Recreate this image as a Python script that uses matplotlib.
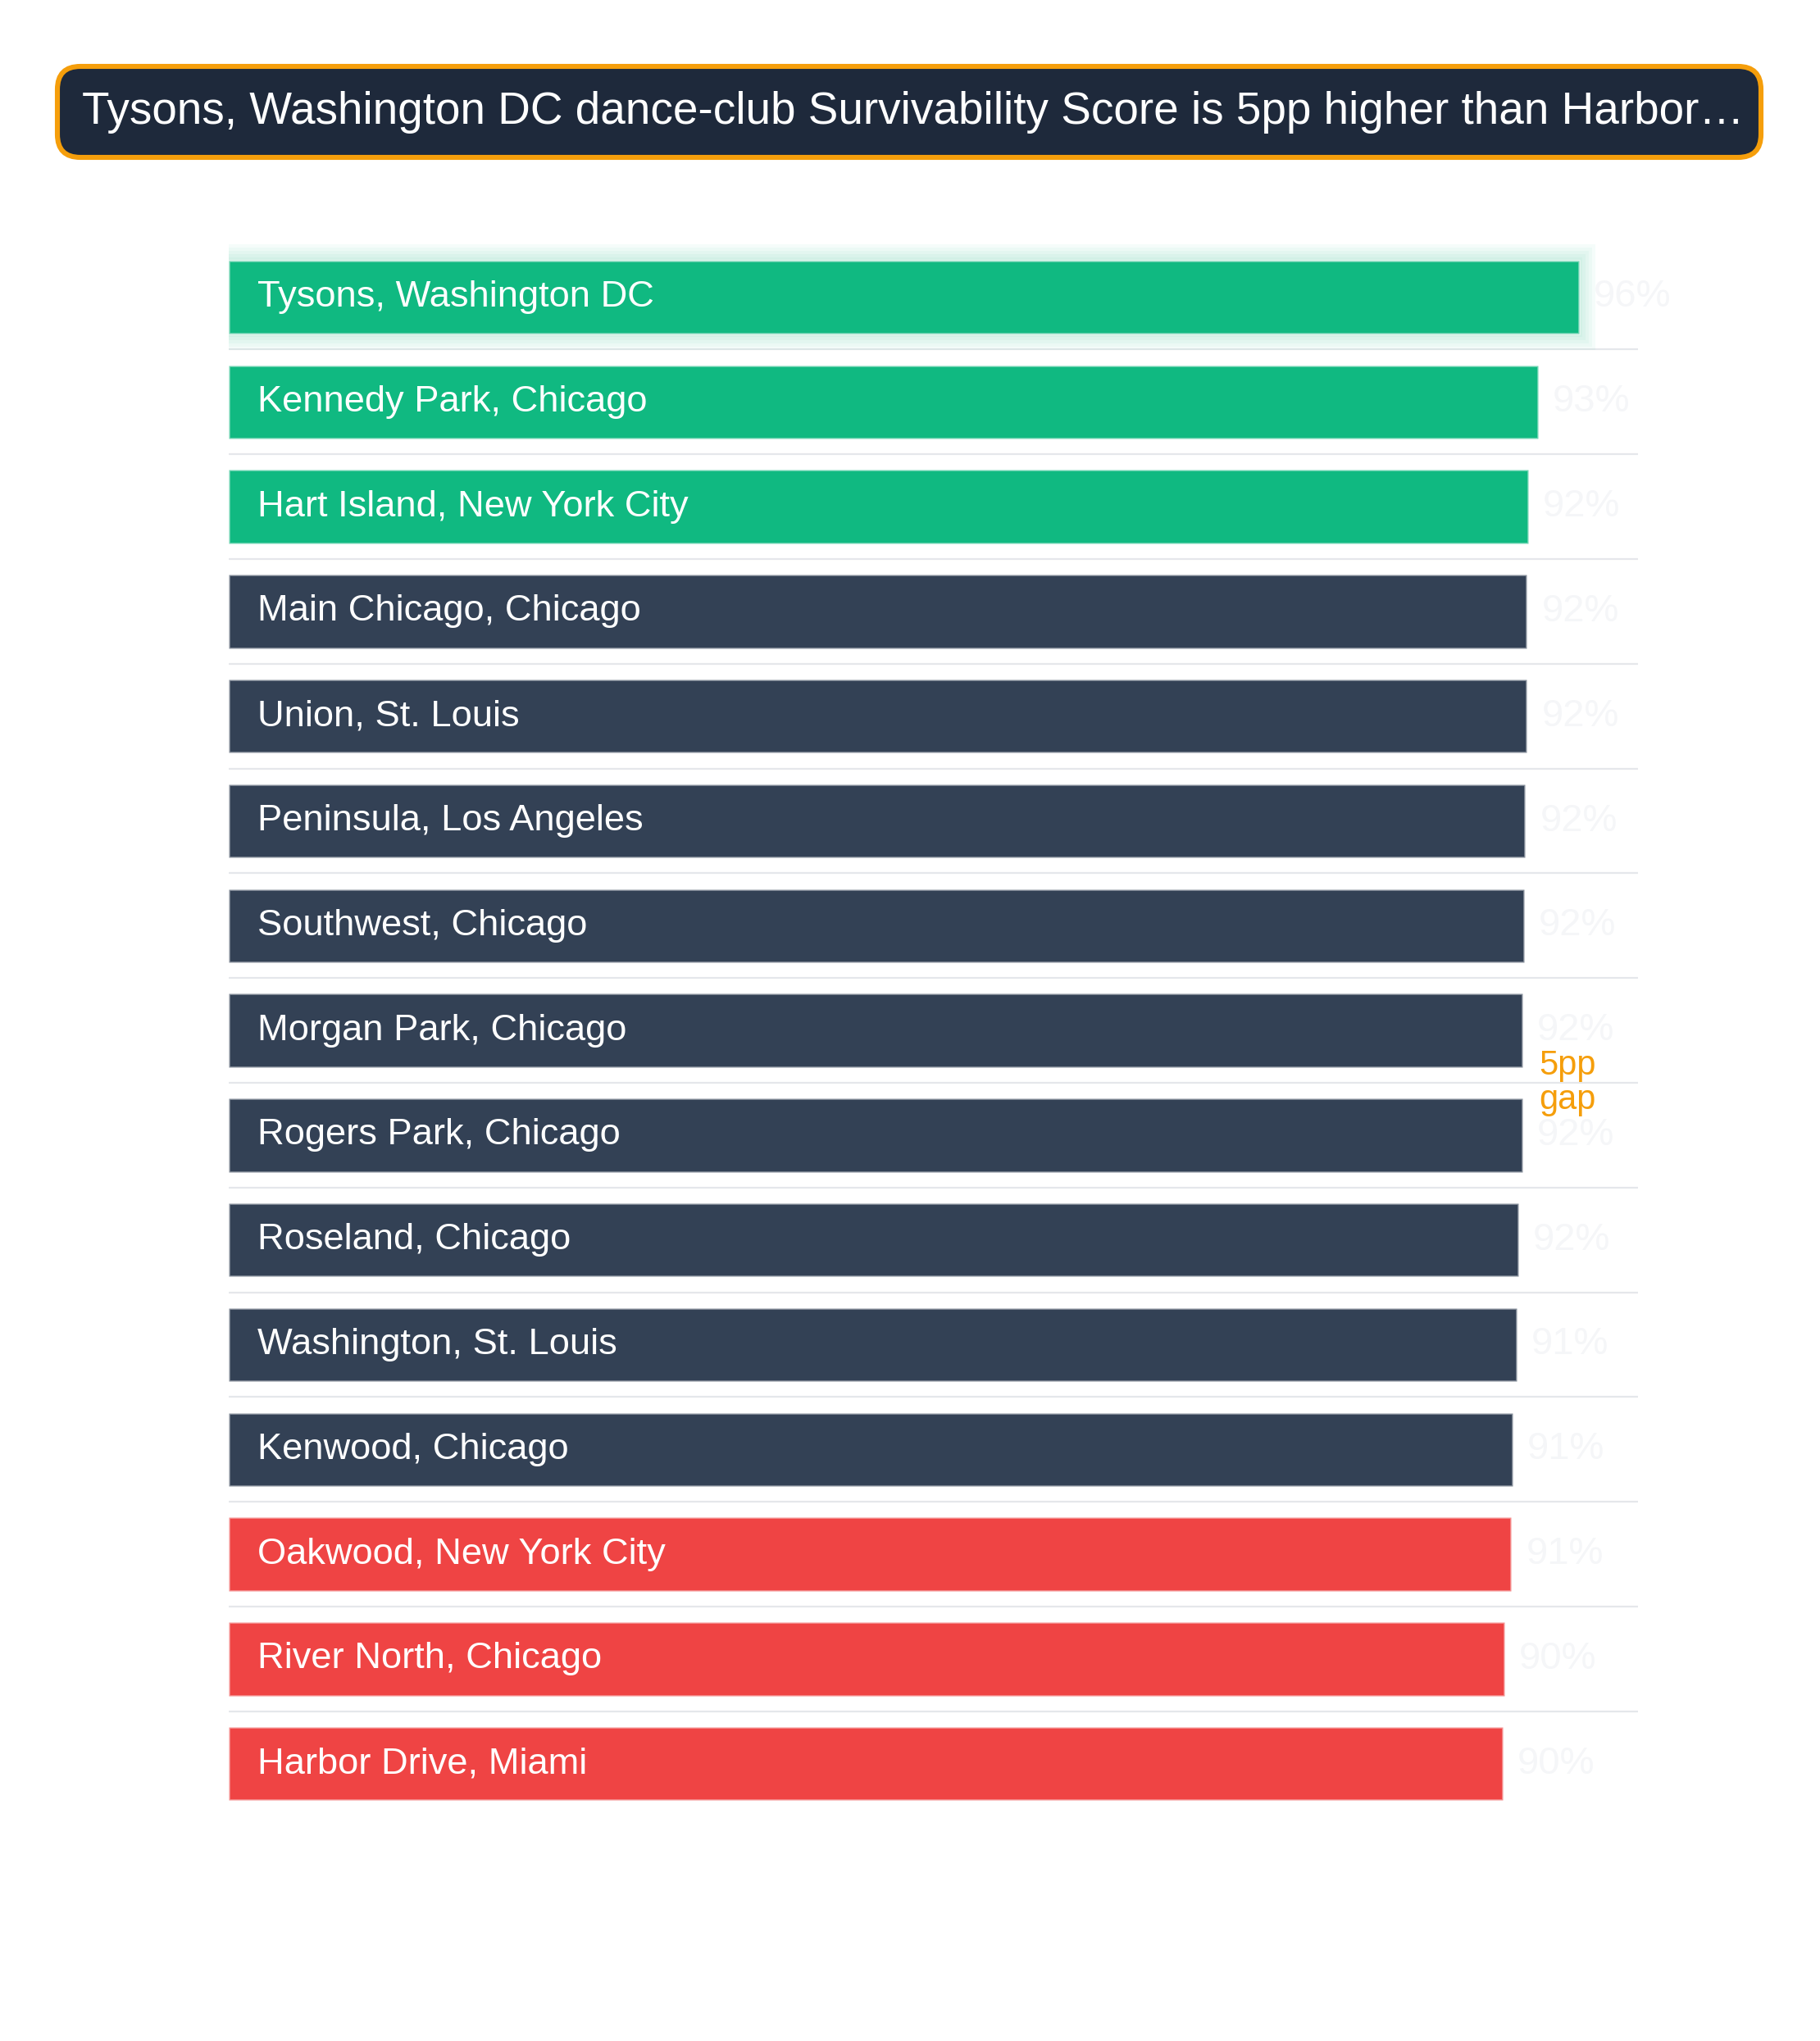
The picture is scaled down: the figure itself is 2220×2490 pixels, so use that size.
import matplotlib
matplotlib.use("Agg")
import matplotlib.pyplot as plt
from matplotlib.patches import FancyBboxPatch, Rectangle

plt.rcParams['font.family'] = ['Liberation Sans', 'DejaVu Sans']

# data
names = ["Tysons, Washington DC", "Kennedy Park, Chicago", "Hart Island, New York City",
         "Main Chicago, Chicago", "Union, St. Louis", "Peninsula, Los Angeles",
         "Southwest, Chicago", "Morgan Park, Chicago", "Rogers Park, Chicago",
         "Roseland, Chicago", "Washington, St. Louis", "Kenwood, Chicago",
         "Oakwood, New York City", "River North, Chicago", "Harbor Drive, Miami"]
scores = [95.8, 92.9, 92.2, 92.1, 92.1, 92.0, 91.9, 91.8, 91.8,
          91.5, 91.4, 91.1, 91.0, 90.5, 90.4]
tiers = ["top"] * 3 + ["mid"] * 9 + ["low"] * 3
title = "Tysons, Washington DC dance-club Survivability Score is 5pp higher than Harbor\u2026"
gap_note = "5pp\ngap"

tier_colors = {"top": "#10b981", "mid": "#334155", "low": "#ef4444"}
W, H, DPI = 2220, 2490, 200

fig = plt.figure(figsize=(W / DPI, H / DPI), dpi=DPI)
fig.patch.set_facecolor("white")

# main bar area
ax_l, ax_r, ax_t, ax_b = 279, 1998, 290, 2250
ax = fig.add_axes([ax_l / W, 1 - ax_b / H, (ax_r - ax_l) / W, (ax_b - ax_t) / H])
n = len(names)
pitch = 127.8
ax.set_xlim(0, 100)
ax.set_ylim((ax_b - 362.5) / pitch, -(362.5 - ax_t) / pitch)
ax.axis("off")

ypos = list(range(n))
bar_h = 0.70
cols = [tier_colors[t] for t in tiers]

# glow behind the leader
px_x = 100 / (ax_r - ax_l)
px_y = 1 / pitch
for p in [20, 16, 12, 8, 4]:
    ax.add_patch(Rectangle((0, ypos[0] - bar_h / 2 - p * px_y), scores[0] + p * px_x,
                           bar_h + 2 * p * px_y, facecolor="#10b981", alpha=0.04,
                           edgecolor="none", zorder=1))

ax.barh(ypos, scores, height=bar_h, color=cols, edgecolor=(1, 1, 1, 0.4),
        linewidth=1.0, zorder=2)

# row separators
for i in range(n - 1):
    ax.axhline(i + 0.5, color="#e5e7eb", linewidth=0.8, zorder=0)

for y, nm, v in zip(ypos, names, scores):
    ax.annotate(nm, (0, y), xytext=(12.6, 0), textcoords="offset points",
                ha="left", va="center", color="white", fontsize=16.3, zorder=3)
    ax.annotate(f"{v:.0f}%", (v, y), xytext=(6.5, 0), textcoords="offset points",
                ha="left", va="center", color="#f5f6f8", fontsize=17, zorder=3)

ax.text(93.0, (n - 1) / 2 + 0.5, gap_note, ha="left", va="center", color="#f59e0b",
        fontsize=15, linespacing=1.05, zorder=4)

# title box
ov = fig.add_axes([0, 0, 1, 1], zorder=5)
ov.set_xlim(0, W)
ov.set_ylim(H, 0)
ov.axis("off")
ov.add_patch(FancyBboxPatch((70, 81), 2078, 111,
                            boxstyle="round,pad=0,rounding_size=28",
                            facecolor="#1e293b", edgecolor="#f59e0b", linewidth=2.2))
ov.text(100, 137, title, ha="left", va="center", color="white", fontsize=19.75)

fig.savefig("out.png", dpi=DPI, facecolor="white")
